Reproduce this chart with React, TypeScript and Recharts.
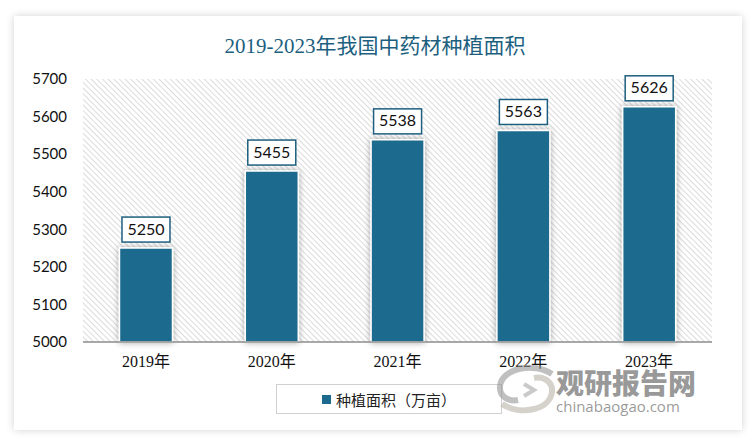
import React from 'react'
import { BarChart, Bar, XAxis, YAxis, CartesianGrid, LabelList } from 'recharts'

const years = ['2019年', '2020年', '2021年', '2022年', '2023年']
const area = [5250, 5455, 5538, 5563, 5626]
const yTicks = [5000, 5100, 5200, 5300, 5400, 5500, 5600, 5700]

const data = years.map((year, i) => ({ year, area: area[i] }))

const teal = '#1b6a8d'
const sansFont = 'Lato, "Noto Sans CJK SC", sans-serif'
const serifFont = '"Liberation Serif", "Noto Sans CJK SC", serif'

function ValueLabel(props: any) {
  const { x, y, width, value } = props
  const w = 48
  const h = 25
  const cx = x + width / 2
  const top = y - h - 6
  return (
    <g>
      <rect x={cx - w / 2} y={top} width={w} height={h} fill="#fff" stroke="#1d5f7f" strokeWidth={1.5} />
      <text x={cx} y={top + h / 2 + 1} textAnchor="middle" dominantBaseline="middle" fontSize={16} fontFamily={sansFont} fill="#111">
        {value}
      </text>
    </g>
  )
}

function LegendBox() {
  return (
    <div style={{ width: 226, height: 30, border: '1px solid #d0d0d0', boxSizing: 'border-box', display: 'flex', alignItems: 'center', justifyContent: 'center', fontFamily: '"Noto Sans CJK SC", sans-serif', fontSize: 15, color: '#222', background: '#fff' }}>
      <span style={{ width: 9, height: 9, background: teal, display: 'inline-block', marginRight: 5 }} />
      种植面积（万亩）
    </div>
  )
}

// rough swirl of the watermark logo
function Logo() {
  return (
    <svg width={64} height={50} style={{ position: 'absolute', left: 494, top: 364 }}>
      <path d="M58 10 C40 -2 8 4 6 22 C5 32 14 38 24 36" fill="none" stroke="rgba(150,150,150,0.6)" strokeWidth={6} />
      <path d="M8 40 C26 52 56 46 58 28 C59 18 50 12 40 14" fill="none" stroke="rgba(185,180,170,0.6)" strokeWidth={6} />
      <path d="M30 20 L40 26 L30 32" fill="none" stroke="rgba(150,150,150,0.5)" strokeWidth={4} />
    </svg>
  )
}

export default function App() {
  return (
    <div style={{ position: 'absolute', left: 0, top: 0, width: 750, height: 445, background: '#fff', overflow: 'hidden' }}>
      <div style={{ position: 'absolute', left: 14, top: 16, width: 728, height: 414, background: '#fff', boxShadow: '0 0 8px rgba(0,0,0,0.18)' }} />
      <div style={{ position: 'absolute', left: 0, top: 29, width: 750, textAlign: 'center', fontFamily: serifFont, fontSize: 21, color: '#1d5f7f' }}>
        2019-2023年我国中药材种植面积
      </div>
      <div style={{ position: 'absolute', left: 0, top: 0 }}>
        <BarChart width={750} height={445} data={data} margin={{ top: 79, right: 38, bottom: 73, left: 20 }} barCategoryGap="29%">
          <defs>
            <pattern id="hatch" width="4" height="4" patternUnits="userSpaceOnUse" patternTransform="rotate(-45)">
              <rect width="4" height="4" fill="#fff" />
              <line x1="0" y1="0" x2="0" y2="4" stroke="#cfcfcf" strokeWidth="1.5" />
            </pattern>
            <filter id="barShadow" x="-30%" y="-10%" width="160%" height="120%">
              <feDropShadow dx="0" dy="0" stdDeviation="3" floodColor="#000" floodOpacity="0.35" />
            </filter>
          </defs>
          <CartesianGrid horizontal={false} vertical={false} fill="url(#hatch)" />
          <XAxis dataKey="year" height={30} tickLine={false} axisLine={{ stroke: '#8c8c8c', strokeWidth: 1.5 }} tick={{ fontFamily: serifFont, fontSize: 16, fill: '#111' }} tickMargin={8} />
          <YAxis domain={[5000, 5700]} ticks={yTicks} width={63} tickLine={false} axisLine={false} tick={{ fontFamily: sansFont, fontSize: 15, fill: '#111' }} tickMargin={10} interval={0} />
          <Bar dataKey="area" name="种植面积（万亩）" fill={teal} stroke="#fff" strokeWidth={1.5} filter="url(#barShadow)" isAnimationActive={false}>
            <LabelList dataKey="area" content={ValueLabel} />
          </Bar>
        </BarChart>
      </div>
      <div style={{ position: 'absolute', left: 276, top: 384 }}>
        <LegendBox />
      </div>
      <Logo />
      <div style={{ position: 'absolute', left: 556, top: 362, fontFamily: '"Noto Sans CJK SC", sans-serif', fontWeight: 900, fontSize: 28, color: 'rgba(120,120,120,0.75)' }}>
        观研报告网
      </div>
      <div style={{ position: 'absolute', left: 556, top: 396, fontFamily: '"Open Sans", sans-serif', fontSize: 15, color: 'rgba(120,120,120,0.75)' }}>
        chinabaogao.com
      </div>
    </div>
  )
}
